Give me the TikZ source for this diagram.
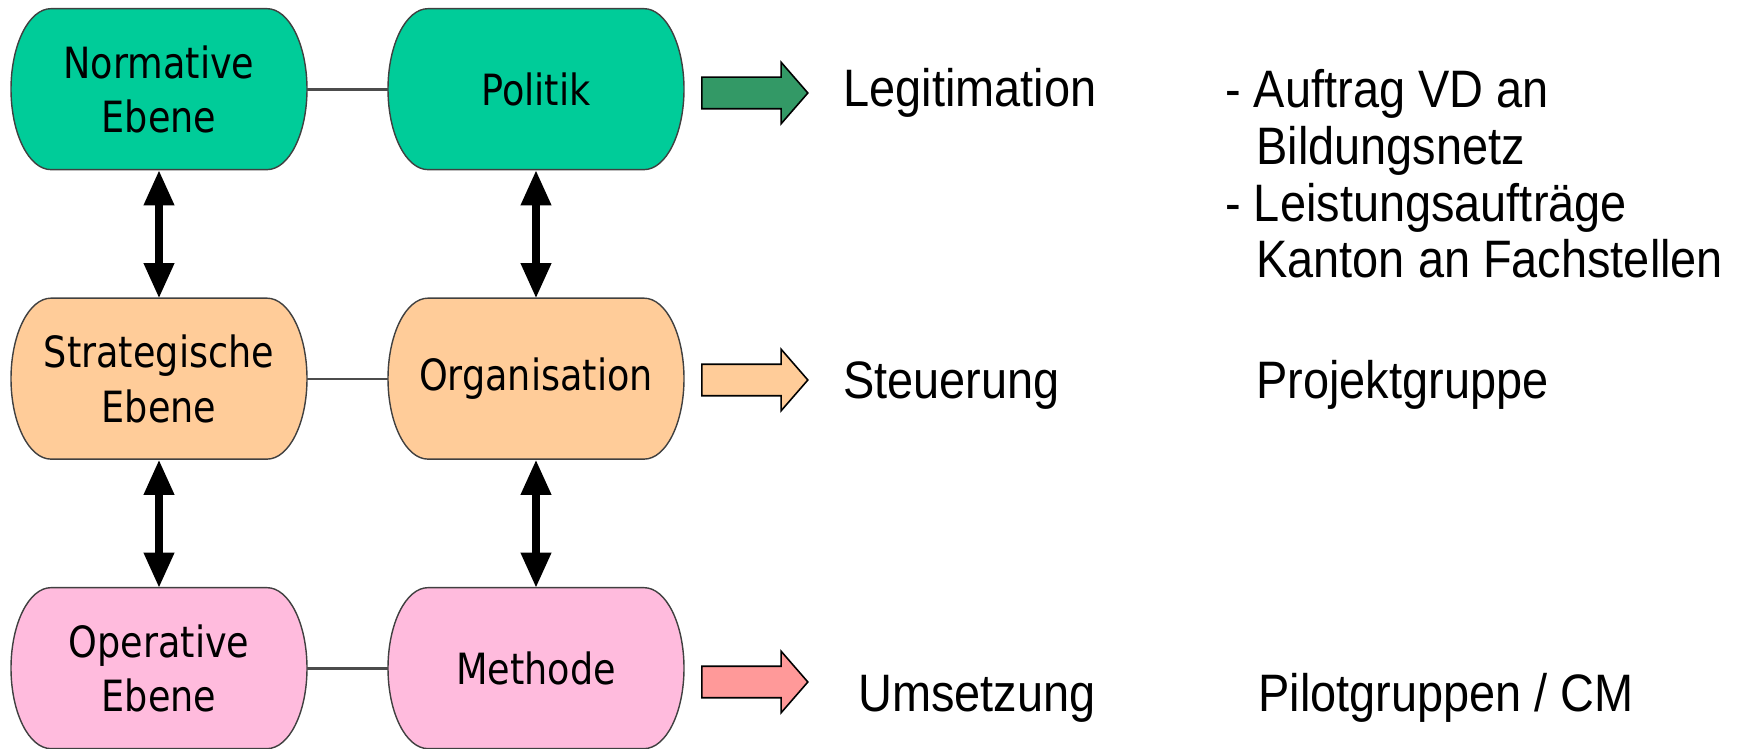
\documentclass[tikz,border=0pt]{standalone}
\usepackage{fontspec}
\newfontfamily\boxfont[FakeStretch=0.85]{DejaVu Sans}
\newfontfamily\lblfont[FakeStretch=0.89]{Liberation Sans}
\usetikzlibrary{arrows.meta,shapes.arrows}
\pgfdeclarelayer{background}
\pgfsetlayers{background,main}
\definecolor{normgreen}{RGB}{0,204,153}
\definecolor{legitgreen}{RGB}{51,153,102}
\definecolor{stratorange}{RGB}{255,204,153}
\definecolor{operpink}{RGB}{255,187,221}
\definecolor{umsred}{RGB}{255,153,153}

\begin{document}
\begin{tikzpicture}[x=0.02cm,y=-0.02cm,>={Triangle[width=5.8mm,length=7mm]},
  level/.style={rectangle,minimum width=5.92cm,minimum height=3.22cm,inner sep=0pt,
    align=center,font=\boxfont\fontsize{24.5}{31}\selectfont},
  levelshape/.style={draw=black!75,line width=0.8pt,fill=#1},
  link/.style={draw=black!70,line width=1.4pt},
  dbl/.style={<->,line width=4pt},
  blockarrow/.style={single arrow,draw=black,line width=0.9pt,minimum height=2.12cm,
    minimum width=1.2cm,inner sep=0.3cm,single arrow head extend=0.3cm,
    single arrow tip angle=98},
  lbl/.style={anchor=base west,inner sep=0pt,align=left,
    font=\lblfont\fontsize{30}{32.4}\selectfont}]
\useasboundingbox (0,0) rectangle (1751,749);
% levels
\node[level] (norm) at (159,89.5) {Normative\\Ebene};
\node[level] (pol) at (536,89.5) {Politik};
\node[level] (strat) at (159,379) {Strategische\\Ebene};
\node[level] (org) at (536,379) {Organisation};
\node[level] (oper) at (159,668.5) {Operative\\Ebene};
\node[level] (meth) at (536,668.5) {Methode};
\begin{pgfonlayer}{background}
\foreach \n/\c in {norm/normgreen,pol/normgreen,strat/stratorange,org/stratorange,oper/operpink,meth/operpink}
  \path[levelshape=\c] (\n.north) ++(-108,0) -- ++(216,0)
    arc[start angle=90,end angle=-90,x radius=0.8cm,y radius=1.61cm] -- ++(-216,0)
    arc[start angle=270,end angle=90,x radius=0.8cm,y radius=1.61cm] -- cycle;
\end{pgfonlayer}
\draw[link] (norm) -- (pol);
\draw[link] (strat) -- (org);
\draw[link] (oper) -- (meth);
\draw[dbl] (norm) -- (strat);
\draw[dbl] (strat) -- (oper);
\draw[dbl] (pol) -- (org);
\draw[dbl] (org) -- (meth);
% block arrows
\node[blockarrow,fill=legitgreen] (arrL) at (748,93) {};
\node[blockarrow,fill=stratorange] (arrS) at (748,380) {};
\node[blockarrow,fill=umsred] (arrU) at (748,682) {};
% labels
\node[lbl] (legit) at (843,107) {Legitimation};
\node[lbl] (auftrag) at (1225,278) {- Auftrag VD an\\\hspace*{0.62cm}Bildungsnetz\\- Leistungsaufträge\\\hspace*{0.62cm}Kanton an Fachstellen};
\node[lbl] (steuer) at (843,399) {Steuerung};
\node[lbl] (projekt) at (1256,399) {Projektgruppe};
\node[lbl] (umsetz) at (858,711) {Umsetzung};
\node[lbl] (pilot) at (1258,711) {Pilotgruppen / CM};
\end{tikzpicture}
\end{document}
